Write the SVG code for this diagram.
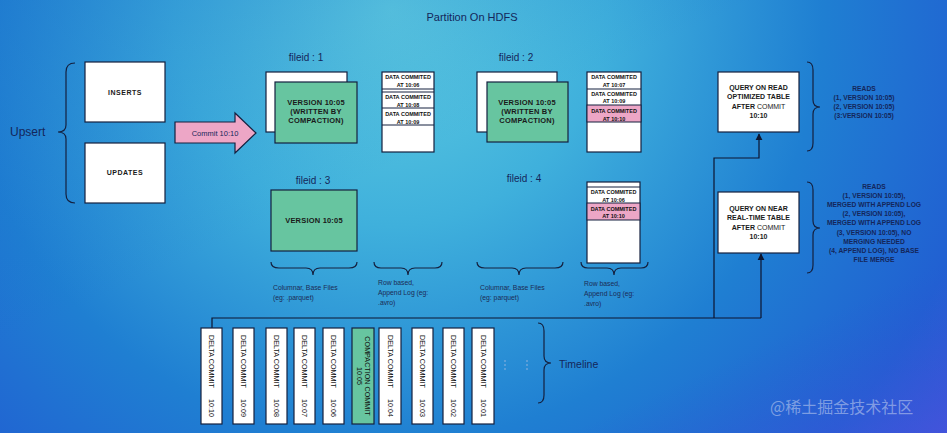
<svg xmlns="http://www.w3.org/2000/svg" width="947" height="433" viewBox="0 0 947 433">
<defs>
<radialGradient id="bg" gradientUnits="userSpaceOnUse" cx="390" cy="10" r="720" fx="390" fy="10">
<stop offset="0" stop-color="#5fcde0"/>
<stop offset="0.3" stop-color="#3fb0dc"/>
<stop offset="0.6" stop-color="#1f7fd2"/>
<stop offset="0.85" stop-color="#2160d2"/>
<stop offset="1" stop-color="#3a55d8"/>
</radialGradient>
<linearGradient id="bg2" x1="0" y1="0" x2="1" y2="1">
<stop offset="0" stop-color="#1565c8" stop-opacity="0.35"/>
<stop offset="0.4" stop-color="#1565c8" stop-opacity="0"/>
<stop offset="0.8" stop-color="#3050d0" stop-opacity="0"/>
<stop offset="1" stop-color="#5050e0" stop-opacity="0.5"/>
</linearGradient>
<marker id="ah" viewBox="0 0 10 10" refX="9" refY="5" markerWidth="6" markerHeight="6" orient="auto">
<path d="M0,0 L10,5 L0,10 z" fill="#0c1530"/>
</marker>
<style>
.box{fill:#fff;stroke:#14203f;stroke-width:1.2}
.green{fill:#67c5a0;stroke:#14203f;stroke-width:1.2}
.pink{fill:#eda6c6;stroke:#14203f;stroke-width:1}
.cell{fill:#fff;stroke:#14203f;stroke-width:1}
.brace{fill:none;stroke:#14203f;stroke-width:1.2}
.lbl{font-family:"Liberation Sans",Arial,sans-serif;fill:#14265a}
.bx{font-family:"Liberation Sans",Arial,sans-serif;font-weight:bold;fill:#1a1a1a;text-anchor:middle}
.dc{font-family:"Liberation Sans",Arial,sans-serif;font-weight:bold;font-size:5.5px;fill:#111;text-anchor:middle}
.note{font-family:"Liberation Sans",Arial,sans-serif;font-size:6.8px;fill:#1c2b55}
.tl{font-family:"Liberation Sans",Arial,sans-serif;font-size:7.2px;fill:#111}
.rd{font-family:"Liberation Sans",Arial,sans-serif;font-weight:bold;font-size:6.7px;fill:#14265a;text-anchor:middle}
.conn{fill:none;stroke:#0c1530;stroke-width:1.2}
</style>
</defs>
<rect width="947" height="433" fill="url(#bg)"/>
<rect width="947" height="433" fill="url(#bg2)"/>

<text class="lbl" x="472" y="21" font-size="11" text-anchor="middle">Partition On HDFS</text>

<g id="upsert">
<text class="lbl" x="10" y="136" font-size="12">Upsert</text>
<path class="brace" d="M75,63 Q66,63 66,72 L66,125 Q66,132 58,132 Q66,132 66,139 L66,194 Q66,203 75,203"/>
</g>
<g id="inserts">
<rect class="box" x="85" y="62" width="80" height="60"/>
<text class="bx" x="125" y="94.5" font-size="7" letter-spacing="0.5">INSERTS</text>
</g>
<g id="updates">
<rect class="box" x="85" y="143" width="80" height="60"/>
<text class="bx" x="125" y="175" font-size="7" letter-spacing="0.5">UPDATES</text>
</g>
<g id="commit">
<path d="M175,122 L235,122 L235,113 L256,133 L235,153 L235,143 L175,143 z" fill="#eda6c6" stroke="#14203f" stroke-width="1.2"/>
<text class="lbl" x="215" y="135.5" font-size="7.5" text-anchor="middle" fill="#222">Commit 10:10</text>
</g>

<g id="fileid1">
<text class="lbl" x="306" y="61" font-size="10" text-anchor="middle">fileid : 1</text>
<rect class="box" x="266" y="72" width="81" height="60"/>
<rect class="green" x="275" y="82" width="82" height="61"/>
<text class="bx" x="316" y="105" font-size="7.5" letter-spacing="0.2">VERSION 10:05</text>
<text class="bx" x="316" y="114" font-size="7.5" letter-spacing="0.2">(WRITTEN BY</text>
<text class="bx" x="316" y="123" font-size="7.5" letter-spacing="0.2">COMPACTION)</text>
</g>
<g id="log1">
<rect class="box" x="382" y="72" width="52" height="80"/>
<line x1="382" y1="89" x2="434" y2="89" stroke="#14203f" stroke-width="1"/>
<line x1="382" y1="92" x2="434" y2="92" stroke="#14203f" stroke-width="1"/>
<line x1="382" y1="108" x2="434" y2="108" stroke="#14203f" stroke-width="1"/>
<line x1="382" y1="125" x2="434" y2="125" stroke="#14203f" stroke-width="1"/>
<text class="dc" x="408" y="79">DATA COMMITED</text>
<text class="dc" x="408" y="86.5">AT 10:06</text>
<text class="dc" x="408" y="99">DATA COMMITED</text>
<text class="dc" x="408" y="106.5">AT 10:08</text>
<text class="dc" x="408" y="116">DATA COMMITED</text>
<text class="dc" x="408" y="123.5">AT 10:09</text>
</g>

<g id="fileid2">
<text class="lbl" x="516" y="61" font-size="10" text-anchor="middle">fileid : 2</text>
<rect class="box" x="477" y="72" width="80" height="60"/>
<rect class="green" x="487" y="82" width="81" height="60"/>
<text class="bx" x="527" y="105" font-size="7.5" letter-spacing="0.2">VERSION 10:05</text>
<text class="bx" x="527" y="114" font-size="7.5" letter-spacing="0.2">(WRITTEN BY</text>
<text class="bx" x="527" y="123" font-size="7.5" letter-spacing="0.2">COMPACTION)</text>
</g>
<g id="log2">
<rect class="box" x="587" y="72" width="54" height="80"/>
<line x1="587" y1="89" x2="641" y2="89" stroke="#14203f" stroke-width="1"/>
<rect class="pink" x="587" y="105" width="54" height="17"/>
<text class="dc" x="614" y="79">DATA COMMITED</text>
<text class="dc" x="614" y="86.5">AT 10:07</text>
<text class="dc" x="614" y="96">DATA COMMITED</text>
<text class="dc" x="614" y="103">AT 10:09</text>
<text class="dc" x="614" y="113" fill="#333">DATA COMMITED</text>
<text class="dc" x="614" y="120.5" fill="#333">AT 10:10</text>
</g>

<g id="fileid3">
<text class="lbl" x="313" y="184" font-size="10" text-anchor="middle">fileid : 3</text>
<rect class="green" x="271" y="190" width="86" height="61"/>
<text class="bx" x="314" y="223" font-size="7.5" letter-spacing="0.2">VERSION 10:05</text>
</g>
<g id="fileid4">
<text class="lbl" x="524" y="182" font-size="10" text-anchor="middle">fileid : 4</text>
</g>
<g id="log4">
<rect class="box" x="587" y="182" width="53" height="81"/>
<line x1="587" y1="187" x2="640" y2="187" stroke="#14203f" stroke-width="1"/>
<rect class="pink" x="587" y="203" width="53" height="17"/>
<text class="dc" x="613.5" y="194">DATA COMMITED</text>
<text class="dc" x="613.5" y="201.5">AT 10:06</text>
<text class="dc" x="613.5" y="210.5" fill="#333">DATA COMMITED</text>
<text class="dc" x="613.5" y="218" fill="#333">AT 10:10</text>
</g>

<g id="notes">
<path class="brace" d="M271,262 Q271,268 279,268 L306,268 Q313,268 313,275 Q313,268 320,268 L349,268 Q357,268 357,262"/>
<path class="brace" d="M374,262 Q374,268 381,268 L401,268 Q408,268 408,275 Q408,268 415,268 L435,268 Q442,268 442,262"/>
<path class="brace" d="M477,262 Q477,268 485,268 L512,268 Q519,268 519,275 Q519,268 526,268 L555,268 Q563,268 563,262"/>
<path class="brace" d="M581,262 Q581,268 588,268 L607,268 Q614,268 614,275 Q614,268 621,268 L641,268 Q648,268 648,262"/>
<text class="note" x="273" y="290">Columnar, Base Files</text>
<text class="note" x="273" y="300">(eg: .parquet)</text>
<text class="note" x="378" y="285">Row based,</text>
<text class="note" x="378" y="295">Append Log (eg:</text>
<text class="note" x="378" y="305">.avro)</text>
<text class="note" x="480" y="290">Columnar, Base Files</text>
<text class="note" x="480" y="300">(eg: parquet)</text>
<text class="note" x="584" y="286">Row based,</text>
<text class="note" x="584" y="296">Append Log (eg:</text>
<text class="note" x="584" y="306">.avro)</text>
</g>

<g id="query1">
<rect class="box" x="718" y="72" width="81" height="60"/>
<text class="bx" x="758.5" y="90" font-size="7" font-weight="normal" fill="#111">QUERY ON READ</text>
<text class="bx" x="758.5" y="99" font-size="7" font-weight="normal" fill="#111">OPTIMIZED TABLE</text>
<text class="bx" x="758.5" y="109" font-size="7" fill="#111">AFTER <tspan font-weight="normal">COMMIT</tspan></text>
<text class="bx" x="758.5" y="118" font-size="7" font-weight="normal" fill="#111">10:10</text>
</g>
<g id="reads1">
<path class="brace" d="M807,62 Q813,62 813,70 L813,100 Q813,107 820,107 Q813,107 813,114 L813,143 Q813,151 807,151"/>
<text class="rd" x="864" y="91">READS</text>
<text class="rd" x="864" y="100">(1, VERSION 10:05)</text>
<text class="rd" x="864" y="109">(2, VERSION 10:05)</text>
<text class="rd" x="864" y="118">(3:VERSION 10:05)</text>
</g>
<g id="query2">
<rect class="box" x="718" y="192" width="81" height="61"/>
<text class="bx" x="758.5" y="211" font-size="7" font-weight="normal" fill="#111">QUERY ON NEAR</text>
<text class="bx" x="758.5" y="220" font-size="7" font-weight="normal" fill="#111">REAL-TIME TABLE</text>
<text class="bx" x="758.5" y="229.5" font-size="7" fill="#111">AFTER <tspan font-weight="normal">COMMIT</tspan></text>
<text class="bx" x="758.5" y="238.5" font-size="7" font-weight="normal" fill="#111">10:10</text>
</g>
<g id="reads2">
<path class="brace" d="M807,182 Q813,182 813,190 L813,221 Q813,228 820,228 Q813,228 813,235 L813,265 Q813,273 807,273"/>
<text class="rd" x="874" y="188.5">READS</text>
<text class="rd" x="874" y="197.7">(1, VERSION 10:05),</text>
<text class="rd" x="874" y="206.9">MERGED WITH APPEND LOG</text>
<text class="rd" x="874" y="216.1">(2, VERSION 10:05),</text>
<text class="rd" x="874" y="225.3">MERGED WITH APPEND LOG</text>
<text class="rd" x="874" y="234.5">(3, VERSION 10:05), NO</text>
<text class="rd" x="874" y="243.7">MERGING NEEDED</text>
<text class="rd" x="874" y="252.9">(4, APPEND LOG), NO BASE</text>
<text class="rd" x="874" y="262.1">FILE MERGE</text>
</g>

<g id="connectors">
<path class="conn" d="M212,328 L212,318 L761,318"/>
<path class="conn" d="M714,318 L714,158 L759,158 L759,134" marker-end="url(#ah)"/>
<path class="conn" d="M761,318 L761,254" marker-end="url(#ah)"/>
</g>

<g id="timeline">
<rect class="box" x="201" y="328" width="21" height="96"/>
<text class="tl" transform="translate(209,335) rotate(90)">DELTA COMMIT</text>
<text class="tl" transform="translate(209,417) rotate(90)" text-anchor="end">10:10</text>
<rect class="box" x="233" y="328" width="21" height="96"/>
<text class="tl" transform="translate(241,335) rotate(90)">DELTA COMMIT</text>
<text class="tl" transform="translate(241,417) rotate(90)" text-anchor="end">10:09</text>
<rect class="box" x="266" y="328" width="21" height="96"/>
<text class="tl" transform="translate(274,335) rotate(90)">DELTA COMMIT</text>
<text class="tl" transform="translate(274,417) rotate(90)" text-anchor="end">10:08</text>
<rect class="box" x="294" y="328" width="21" height="96"/>
<text class="tl" transform="translate(302,335) rotate(90)">DELTA COMMIT</text>
<text class="tl" transform="translate(302,417) rotate(90)" text-anchor="end">10:07</text>
<rect class="box" x="323" y="328" width="21" height="96"/>
<text class="tl" transform="translate(331,335) rotate(90)">DELTA COMMIT</text>
<text class="tl" transform="translate(331,417) rotate(90)" text-anchor="end">10:06</text>
<rect class="green" x="352" y="328" width="22" height="96"/>
<text class="tl" transform="translate(365,376) rotate(90)" text-anchor="middle" fill="#143a28">COMPACTION COMMIT</text>
<text class="tl" transform="translate(357,376) rotate(90)" text-anchor="middle" fill="#143a28">10:05</text>
<rect class="box" x="379" y="328" width="22" height="96"/>
<text class="tl" transform="translate(387.5,335) rotate(90)">DELTA COMMIT</text>
<text class="tl" transform="translate(387.5,417) rotate(90)" text-anchor="end">10:04</text>
<rect class="box" x="412" y="328" width="21" height="96"/>
<text class="tl" transform="translate(420,335) rotate(90)">DELTA COMMIT</text>
<text class="tl" transform="translate(420,417) rotate(90)" text-anchor="end">10:03</text>
<rect class="box" x="443" y="328" width="21" height="96"/>
<text class="tl" transform="translate(451,335) rotate(90)">DELTA COMMIT</text>
<text class="tl" transform="translate(451,417) rotate(90)" text-anchor="end">10:02</text>
<rect class="box" x="472" y="328" width="22" height="96"/>
<text class="tl" transform="translate(480.5,335) rotate(90)">DELTA COMMIT</text>
<text class="tl" transform="translate(480.5,417) rotate(90)" text-anchor="end">10:01</text>
<g fill="#9fb8e0">
<circle cx="505" cy="361" r="0.8"/><circle cx="505" cy="365" r="0.8"/><circle cx="505" cy="369" r="0.8"/>
<circle cx="527" cy="361" r="0.8"/><circle cx="527" cy="365" r="0.8"/><circle cx="527" cy="369" r="0.8"/>
</g>
<path class="brace" d="M538,323 Q544,323 544,331 L544,356 Q544,363 551,363 Q544,363 544,370 L544,395 Q544,403 538,403"/>
<text class="lbl" x="559" y="368" font-size="10.5">Timeline</text>
</g>

<text x="770" y="413" font-family="Noto Sans CJK SC, sans-serif" font-size="16" fill="#c8d4f0" fill-opacity="0.55">@稀土掘金技术社区</text>
</svg>
